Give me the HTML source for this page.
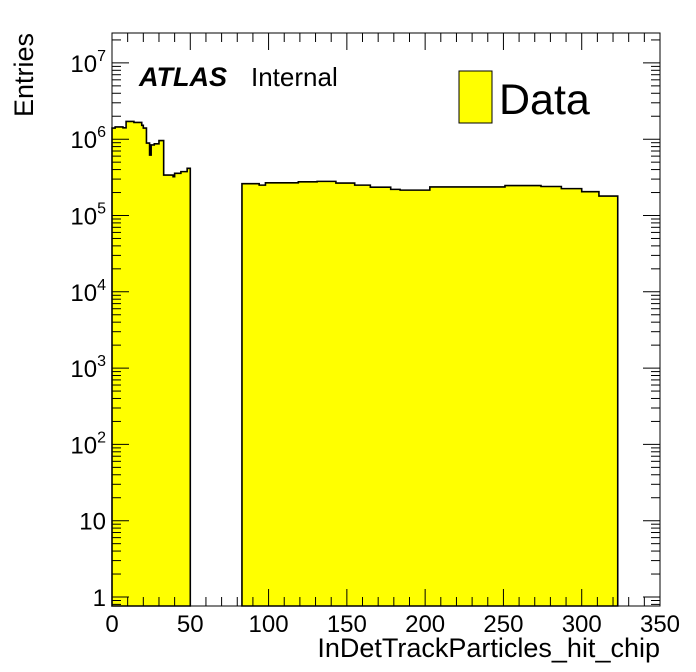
<!DOCTYPE html>
<html><head><meta charset="utf-8"><style>
body{margin:0;background:#fff;}
svg{display:block;font-family:"Liberation Sans",Arial,sans-serif;}
</style></head><body>
<svg id="chart" width="696" height="672" viewBox="0 0 696 672">
<rect x="0" y="0" width="696" height="672" fill="#fff"/>
<g id="bars"></g>
<g id="axes"></g>
<text x="33" y="33" font-size="27" text-anchor="end" transform="rotate(-90 33 33)">Entries</text>
<text x="660" y="657" font-size="27" text-anchor="end">InDetTrackParticles_hit_chip</text>
<text x="139" y="86" font-size="27" font-weight="bold" font-style="italic">ATLAS</text>
<text x="251" y="86" font-size="26">Internal</text>
<rect x="459" y="71" width="33" height="52" fill="#ffff00" stroke="#000" stroke-width="1"/>
<text x="499" y="114" font-size="43">Data</text>
</svg>
<script>
// histogram data: bin edges and contents
const edges1 = [0,2,7,9,14,19,20,22,24,25,27,30,33,39,40,44,48,50];
const values1 = [1.40e6,1.45e6,1.41e6,1.71e6,1.66e6,1.52e6,1.40e6,8.9e5,6.2e5,8.4e5,8.7e5,9.6e5,3.39e5,3.23e5,3.57e5,3.76e5,4.15e5];
const edges2 = [83,94,98,119,131,143,155,165,178,184,203,251,274,287,300,311,323];
const values2 = [2.61e5,2.5e5,2.68e5,2.76e5,2.8e5,2.66e5,2.5e5,2.35e5,2.2e5,2.15e5,2.37e5,2.47e5,2.4e5,2.25e5,2.05e5,1.8e5];
const xTicks = [0,50,100,150,200,250,300,350];
const yDecades = [0,1,2,3,4,5,6,7];

const L=112,R=660,T=33,B=606;
const X=v=>L+(v-0)/350*(R-L);
const Y=v=>597-Math.log10(v)*76.3;
const NS="http://www.w3.org/2000/svg";
function mk(tag,attrs,parent){const e=document.createElementNS(NS,tag);for(const k in attrs)e.setAttribute(k,attrs[k]);parent.appendChild(e);return e;}
const bars=document.getElementById('bars'), axes=document.getElementById('axes');
function drawHist(edges,vals,name){
  let d=`M${X(edges[0])},${B}`;
  for(let i=0;i<vals.length;i++){d+=` L${X(edges[i])},${Y(vals[i])} L${X(edges[i+1])},${Y(vals[i])}`;}
  d+=` L${X(edges[edges.length-1])},${B} Z`;
  const p=mk('path',{d:d,fill:'#ffff00',stroke:'#000','stroke-width':1.6},bars);
  
  
}
drawHist(edges1,values1,'histogram-region-low');
drawHist(edges2,values2,'histogram-region-high');
const fr=mk('rect',{x:L,y:T,width:R-L,height:B-T,fill:'none',stroke:'#000','stroke-width':1},axes);


for(let v=0;v<=350;v+=10){
  const len=(v%50===0)?17:9;const x=X(v);
  mk('line',{x1:x,y1:B,x2:x,y2:B-len,stroke:'#000'},axes);
  mk('line',{x1:x,y1:T,x2:x,y2:T+len,stroke:'#000'},axes);
}
xTicks.forEach(v=>{
  const t=mk('text',{x:X(v),y:632,'font-size':24,'text-anchor':'middle'},axes);
  t.textContent=v;
  
  
});
for(let dcd=-1;dcd<=7;dcd++){
  for(let m=1;m<=9;m++){
    const v=m*Math.pow(10,dcd);const y=Y(v);
    if(y<T||y>B)continue;
    const len=m===1?17:9;
    mk('line',{x1:L,y1:y,x2:L+len,y2:y,stroke:'#000'},axes);
    mk('line',{x1:R,y1:y,x2:R-len,y2:y,stroke:'#000'},axes);
  }
}
yDecades.forEach(e=>{
  const y=Y(Math.pow(10,e));
  const t=mk('text',{x:106,y:y+9,'font-size':24,'text-anchor':'end'},axes);
  if(e===0)t.textContent='1';
  else if(e===1)t.textContent='10';
  else{t.textContent='10';const s=mk('tspan',{'font-size':16,dy:-11},t);s.textContent=e;}
  
  
});
</script>
</body></html>
